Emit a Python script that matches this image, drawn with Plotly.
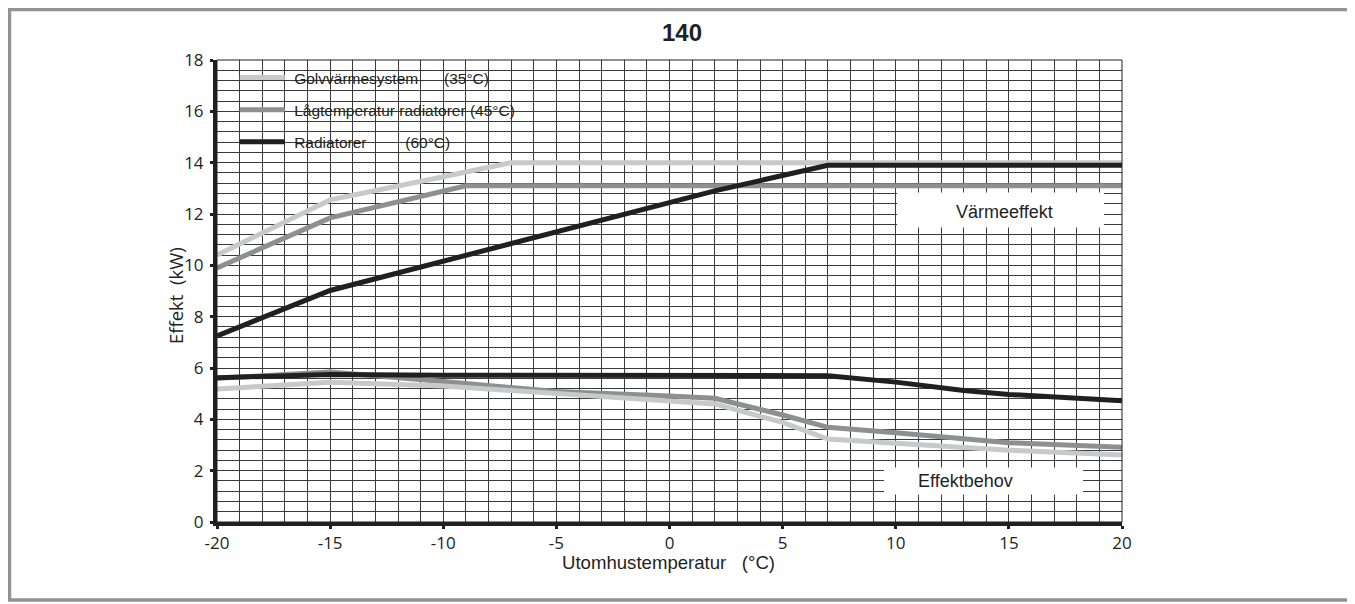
import plotly.graph_objects as go

# ---------------- data ----------------
title_text = "140"
x_title = "Utomhustemperatur\u00a0\u00a0\u00a0(°C)"
y_title = "Effekt\u00a0\u00a0(kW)"

series_names = [
    "\u00a0Golvvärmesystem\u00a0\u00a0\u00a0\u00a0\u00a0\u00a0(35°C)",
    "\u00a0Lågtemperatur radiatorer (45°C)",
    "\u00a0Radiatorer\u00a0\u00a0\u00a0\u00a0\u00a0\u00a0\u00a0\u00a0\u00a0(60°C)",
]

x_tickvals = [-20, -15, -10, -5, 0, 5, 10, 15, 20]
x_ticktext = ["-20", "-15", "-10", "-5", "0", "5", "10", "15", "20"]

# Värmeeffekt (heat output)
golv_heat_x = [-20, -15, -10, -7, 20]
golv_heat_y = [10.4, 12.55, 13.45, 14.0, 14.0]
lag_heat_x = [-20, -15, -9, 20]
lag_heat_y = [9.9, 11.85, 13.1, 13.1]
rad_heat_x = [-20, -15, 2, 7, 20]
rad_heat_y = [7.25, 9.02, 12.9, 13.9, 13.9]

# Effektbehov (power demand)
golv_need_x = [-20, -15, -10, -5, 0, 2, 5, 7, 10, 15, 20]
golv_need_y = [5.18, 5.44, 5.30, 5.01, 4.75, 4.60, 3.88, 3.23, 3.07, 2.80, 2.61]
lag_need_x = [-20, -15, -10, -5, 0, 2, 5, 7, 10, 15, 20]
lag_need_y = [5.60, 5.84, 5.47, 5.08, 4.91, 4.82, 4.17, 3.69, 3.48, 3.09, 2.91]
rad_need_x = [-20, -15, -10, -5, 0, 2, 7, 10, 13, 15, 20]
rad_need_y = [5.62, 5.75, 5.72, 5.72, 5.70, 5.70, 5.70, 5.45, 5.12, 4.97, 4.72]

box_labels = ["Värmeeffekt", "Effektbehov"]

colors = ["#c8c9ca", "#8e8f91", "#231f20"]
LW = 5

fig = go.Figure()

heat = [(golv_heat_x, golv_heat_y), (lag_heat_x, lag_heat_y), (rad_heat_x, rad_heat_y)]
for i, (xs, ys) in enumerate(heat):
    fig.add_trace(go.Scatter(x=xs, y=ys, mode="lines", name=series_names[i],
                             legendgroup=f"g{i}", showlegend=True,
                             line=dict(color=colors[i], width=LW)))

need = [(lag_need_x, lag_need_y, 1), (golv_need_x, golv_need_y, 0), (rad_need_x, rad_need_y, 2)]
for xs, ys, i in need:
    fig.add_trace(go.Scatter(x=xs, y=ys, mode="lines", name=series_names[i],
                             legendgroup=f"g{i}", showlegend=False,
                             line=dict(color=colors[i], width=LW)))

gridc = "#3a3a3a"
tickfont = dict(family="Open Sans", size=17, color="#231f20")
fig.update_xaxes(range=[-20, 20], tickmode="array", tickvals=x_tickvals, ticktext=x_ticktext,
                 showgrid=True, gridcolor=gridc, gridwidth=1,
                 minor=dict(dtick=1, tick0=0, showgrid=True, gridcolor=gridc, gridwidth=1),
                 zeroline=False, showline=True, linecolor="#231f20", linewidth=4,
                 ticks="outside", ticklen=3, tickwidth=3, tickcolor="#231f20",
                 tickfont=tickfont)
fig.update_yaxes(range=[0, 18], dtick=2, tick0=0, showgrid=True, gridcolor=gridc, gridwidth=1,
                 minor=dict(dtick=0.4, tick0=0, showgrid=True, gridcolor=gridc, gridwidth=1),
                 zeroline=False, showline=True, linecolor="#231f20", linewidth=4,
                 ticks="outside", ticklen=3, tickwidth=3, tickcolor="#231f20",
                 ticklabelstandoff=3, tickfont=tickfont)

shapes = [
    # thin frame on top/right of plot area
    dict(type="rect", xref="paper", yref="paper", x0=0, x1=1, y0=0, y1=1,
         line=dict(color="#231f20", width=1), layer="above"),
    # white label boxes
    dict(type="rect", xref="x", yref="y", x0=10.06, x1=19.2, y0=11.47, y1=12.84,
         fillcolor="white", line=dict(width=0), layer="above"),
    dict(type="rect", xref="x", yref="y", x0=9.48, x1=18.28, y0=1.07, y1=2.12,
         fillcolor="white", line=dict(width=0), layer="above"),
    # outer grey frame
    dict(type="rect", xref="paper", yref="paper", x0=-0.2293, x1=1.2556, y0=-0.1688, y1=1.1093,
         line=dict(color="#939393", width=3.5), layer="above"),
]

annotations = [
    dict(text=box_labels[0], x=14.8, y=12.09, xref="x", yref="y", showarrow=False,
         font=dict(family="Liberation Sans, Arial", size=18, color="#231f20")),
    dict(text=box_labels[1], x=13.1, y=1.6, xref="x", yref="y", showarrow=False,
         font=dict(family="Liberation Sans, Arial", size=18, color="#231f20")),
    dict(text=x_title, x=(668 - 217) / 905, y=-0.0887, xref="paper", yref="paper", showarrow=False,
         xanchor="center", yanchor="middle",
         font=dict(family="Liberation Sans, Arial", size=18.6, color="#231f20")),
    dict(text=y_title, x=-0.0464, y=0.489, xref="paper", yref="paper", showarrow=False,
         xanchor="center", yanchor="middle", textangle=-90,
         font=dict(family="Open Sans", size=18.5, color="#231f20")),
]

W, H = 1347, 596
fig.update_layout(
    width=W, height=H,
    margin=dict(l=209, r=233, t=52, b=82),
    paper_bgcolor="white", plot_bgcolor="white",
    title=dict(text="<b>" + title_text + "</b>", x=(682 - 8) / W, xref="container", xanchor="center",
               y=1 - (33 - 8) / H, yref="container", yanchor="middle",
               font=dict(family="Liberation Sans, Arial", size=24, color="#231f20")),
    showlegend=True,
    legend=dict(x=0.0197, y=0.998, xanchor="left", yanchor="top", bgcolor="rgba(0,0,0,0)",
                borderwidth=0, tracegroupgap=9, itemwidth=45, traceorder="grouped",
                font=dict(family="Liberation Sans, Arial", size=15.5, color="#231f20")),
    shapes=shapes, annotations=annotations,
)

fig.write_html("out.html")
